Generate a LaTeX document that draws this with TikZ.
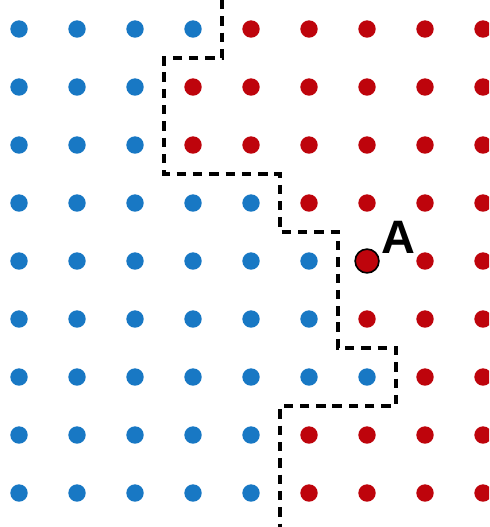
\documentclass[tikz,border=0pt]{standalone}
\usepackage{fontspec}
\setsansfont{Liberation Sans}

\tikzset{
  bluedot/.style={circle,fill=dotblue,inner sep=0pt,minimum size=3mm},
  reddot/.style={circle,fill=dotred,inner sep=0pt,minimum size=3mm},
  bigdot/.style={circle,fill=dotred,draw=black,line width=0.8pt,inner sep=0pt,minimum size=4.1mm},
  boundary/.style={line width=1.6pt,dash pattern=on 4.6pt off 3.4pt}
}

\begin{document}
\begin{tikzpicture}
  \definecolor{dotblue}{RGB}{24,120,196}
  \definecolor{dotred}{RGB}{190,4,12}
  \useasboundingbox (0,0) rectangle (8.431,-9.086);
  \clip (0,0) rectangle (8.431,-9.086);
  % number of blue dots in each row, top to bottom
  \foreach \nb [count=\j from 0] in {4,3,3,5,6,6,7,5,5} {
    \foreach \i in {0,...,8} {
      \ifnum\i<\nb
        \node[bluedot] (d-\i-\j) at (\i+0.328,-\j-0.5) {};
      \else
        \node[reddot] (d-\i-\j) at (\i+0.328,-\j-0.5) {};
      \fi
    }
  }
  % the marked site
  \node[bigdot] (A) at (6.328,-4.5) {};
  \node[font=\sffamily\bfseries\fontsize{23}{23}\selectfont] (Alabel) at (6.87,-4.1) {A};
  % domain boundary
  \draw[boundary] (3.5+0.328,0) -- (3.5+0.328,-1) -- (2.5+0.328,-1) -- (2.5+0.328,-3)
    -- (4.5+0.328,-3) -- (4.5+0.328,-4) -- (5.5+0.328,-4) -- (5.5+0.328,-6)
    -- (6.5+0.328,-6) -- (6.5+0.328,-7) -- (4.5+0.328,-7) -- (4.5+0.328,-9.086);
\end{tikzpicture}
\end{document}
